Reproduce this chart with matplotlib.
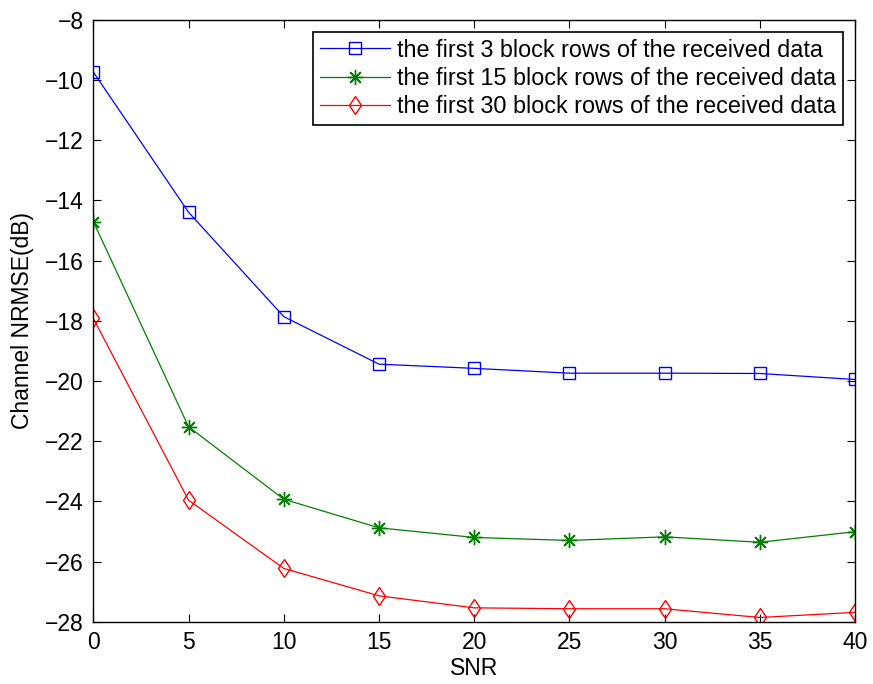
import matplotlib
matplotlib.use("Agg")
import matplotlib.pyplot as plt

plt.rcParams["font.family"] = ["Liberation Sans", "DejaVu Sans"]

snr = [0, 5, 10, 15, 20, 25, 30, 35, 40]
nrmse_3 = [-9.73, -14.39, -17.86, -19.44, -19.58, -19.74, -19.74, -19.75, -19.95]
nrmse_15 = [-14.70, -21.52, -23.93, -24.88, -25.20, -25.30, -25.18, -25.36, -25.01]
nrmse_30 = [-17.92, -23.96, -26.23, -27.14, -27.54, -27.57, -27.57, -27.86, -27.69]
labels = [
    "the first 3 block rows of the received data",
    "the first 15 block rows of the received data",
    "the first 30 block rows of the received data",
]

fig = plt.figure(figsize=(8.73, 6.84), dpi=100)
ax = fig.add_axes([0.1069, 0.0911, 0.8725, 0.8797])

lw = 0.9
ax.plot(snr, nrmse_3, color="#0000ff", lw=lw, marker="s", ms=8,
        mfc="none", mec="#0000ff", mew=1.0, label=labels[0])
ax.plot(snr, nrmse_15, color="#008000", lw=lw, marker=(8, 2, 0), ms=11,
        mec="#008000", mew=1.0, label=labels[1])
ax.plot(snr, nrmse_30, color="#ff0000", lw=lw, marker="d", ms=9.5,
        mfc="none", mec="#ff0000", mew=1.0, label=labels[2])

ax.set_xlim(0, 40)
ax.set_ylim(-28, -8)
ax.set_xticks(range(0, 41, 5))
ax.set_yticks(range(-28, -7, 2))
ax.tick_params(direction="in", length=6, width=0.8, top=True, right=True,
               labelsize=16.5, pad=7)
for sp in ax.spines.values():
    sp.set_linewidth(1.0)

ax.set_xlabel("SNR", fontsize=16.5, labelpad=2)
ax.set_ylabel("Channel NRMSE(dB)", fontsize=16.5, labelpad=8)

leg = ax.legend(loc="upper right", fontsize=16.8, fancybox=False,
                framealpha=1, edgecolor="black", borderpad=0.3,
                labelspacing=0.23, handlelength=3.0, handletextpad=0.3,
                borderaxespad=0.5)
leg.get_frame().set_linewidth(1.2)

fig.savefig("out.png", dpi=100)
